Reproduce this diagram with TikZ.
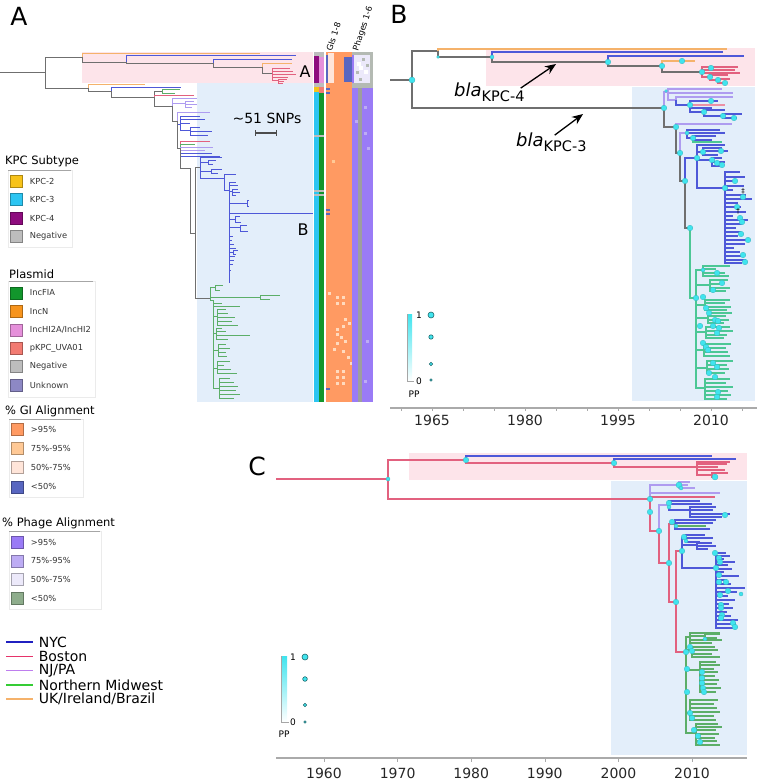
\documentclass[tikz,border=0pt]{standalone}
\usepackage{fontspec}
\setmainfont{DejaVu Sans}
\usetikzlibrary{arrows.meta,positioning}

\definecolor{kpcTwo}{HTML}{F7C31A}
\definecolor{kpcThree}{HTML}{2CC5F2}
\definecolor{kpcFour}{HTML}{8E0C7E}
\definecolor{negGrey}{HTML}{BDBDBD}
\definecolor{incFIA}{HTML}{12962C}
\definecolor{incN}{HTML}{F7941D}
\definecolor{incHI}{HTML}{E590DA}
\definecolor{uvaRed}{HTML}{F27B72}
\definecolor{unkPurple}{HTML}{8D88C4}
\definecolor{giHigh}{HTML}{FF9A62}
\definecolor{giMid}{HTML}{FFC996}
\definecolor{giLow}{HTML}{FFE5D9}
\definecolor{giNone}{HTML}{5866C0}
\definecolor{phHigh}{HTML}{9A7BF6}
\definecolor{phMid}{HTML}{BDACF4}
\definecolor{phLow}{HTML}{ECE9FA}
\definecolor{phNone}{HTML}{8EAD8C}
\definecolor{locNYC}{HTML}{2020C0}
\definecolor{locBos}{HTML}{E6336A}
\definecolor{locNJ}{HTML}{BE7EEE}
\definecolor{locMid}{HTML}{35CC35}
\definecolor{locUK}{HTML}{F5B26B}
\definecolor{brGrey}{HTML}{6F6F6F}
\definecolor{brBlue}{HTML}{4E58D8}
\definecolor{brViolet}{HTML}{AE9CF0}
\definecolor{brGreen}{HTML}{5CAE68}
\definecolor{brTeal}{HTML}{4CC795}
\definecolor{brRed}{HTML}{E2617F}
\definecolor{shadePink}{HTML}{FDE4EA}
\definecolor{shadeBlue}{HTML}{E3EEFA}
\definecolor{ppCyan}{HTML}{40E4EE}
\definecolor{axisGrey}{HTML}{AAAAAA}

\tikzset{
  br/.style={line width=0.8pt},
  brb/.style={line width=1.1pt},
  legsq/.style={draw=#1!70!black, fill=#1, line width=0.4pt, minimum size=12pt, inner sep=0pt},
  legtxt/.style={inner sep=0pt, anchor=west, font=\fontsize{8.3}{10}\selectfont, text=black!80},
  leghead/.style={inner sep=0pt, anchor=west, font=\fontsize{11.5}{13}\selectfont},
  loctxt/.style={inner sep=0pt, anchor=west, text=black, font=\fontsize{14}{16}\selectfont},
  legrule/.style={draw=black!35, line width=0.8pt},
  legframe/.style={draw=black!8, line width=0.5pt},
  panel/.style={inner sep=0pt, font=\fontsize{25}{28}\selectfont},
  cladetxt/.style={inner sep=0pt, font=\fontsize{16}{18}\selectfont},
  colhead/.style={inner sep=0pt, anchor=west, rotate=72, font=\fontsize{8.3}{9}\selectfont},
  pptxt/.style={inner sep=0pt, font=\fontsize{9}{10}\selectfont},
  ppkey/.style={fill=ppCyan, draw=black!55!ppCyan, line width=0.6pt},
  axis/.style={draw=axisGrey, line width=1.2pt},
  yearlab/.style={inner sep=0pt, font=\fontsize{14}{16}\selectfont, text=black!85},
  arr/.style={-{Stealth[length=11pt,width=9pt]}, line width=1.3pt},
}
\newcommand{\fan}[4]{\foreach \yy/\xe in {#4} \draw[#1] (#2,#3) |- (\xe,\yy);}
\newcommand{\ppd}[3][2.8]{\fill[ppCyan, draw=ppCyan!80!black, line width=0.3pt] (#2,#3) circle (#1);}
\newcommand{\blafont}{\fontsize{18}{20}\selectfont\itshape}
\newcommand{\kpcsub}[1]{\raisebox{-5pt}{\fontsize{14.5}{16}\selectfont\upshape #1}}

\begin{document}
\begin{tikzpicture}[x=1pt,y=-1pt]
\useasboundingbox (0,0) rectangle (760,783);

%% ---------- panel A: tree
\fill[shadePink] (82,52) rectangle (313,83);
\fill[shadeBlue] (197,83) rectangle (313,402);
\draw[br,brGrey] (0,72) -- (45,72);
\draw[br,brGrey] (45,72) |- (82,57);
\draw[br,brGrey] (45,72) |- (88,88);
% KPC-4 clade
\draw[br,locUK] (82,57) |- (260,53);
\draw[br,brGrey] (82,57) |- (126,62);
\draw[br,brBlue] (126,62) |- (296,55);
\draw[br,brGrey] (126,62) |- (213,63);
\draw[br,brBlue] (213,63) |- (292,59);
\draw[br,brGrey] (213,63) |- (262,67);
\draw[br,locUK] (262,67) |- (292,63);
\draw[br,brGrey] (262,67) |- (272,73);
\fan{br,brRed}{272}{73}{68/290,71/293,74/296,77/288,80/278}
\fan{br,brRed}{278}{80}{79/287,81/284,83/283}
% KPC-3 ladder
\draw[br,locUK] (88,88) |- (145,84);
\draw[br,brGrey] (88,88) |- (111,91);
\draw[br,brBlue] (111,91) |- (181,87);
\draw[br,brGrey] (111,91) |- (154,97);
\draw[br,brGrey] (154,97) |- (162,91);
\fan{br,brGreen}{162}{91}{89/180,93/175}
\draw[br,brRed] (154,97) |- (194,95);
\draw[br,brGrey] (154,97) |- (172,106);
\draw[br,brViolet] (172,106) |- (197,98);
\draw[br,brViolet] (172,106) |- (185,103);
\fan{br,brViolet}{185}{103}{101/194,104/197,107/192}
\draw[br,brGrey] (172,106) |- (177,121);
\draw[br,brViolet] (177,121) |- (210,112);
\draw[br,brBlue] (177,121) |- (180,124);
\fan{br,brBlue}{180}{124}{116/200,119/205,123/190,130/190}
\fan{br,brBlue}{190}{130}{127/200,131/212,135/208}
\draw[br,brGrey] (177,121) |- (180,148);
\draw[br,brRed] (180,148) |- (210,141);
\draw[br,brGreen] (180,148) |- (195,144);
\fan{br,brViolet}{180}{148}{147/213,150/205}
\fan{br,brBlue}{180}{148}{153/212,156/220}
\draw[br,brGrey] (180,148) |- (190,168) |- (195,233);
\draw[br,brGrey] (195,233) |- (200,167);
\draw[br,brGrey] (195,233) |- (210,298);
% NYC clade
\fan{br,brBlue}{200}{167}{157/222,162/208,171/211,178/224}
\fan{br,brBlue}{208}{162}{160/216,164/213}
\fan{br,brBlue}{211}{171}{169/222,173/218}
\fan{br,brBlue}{224}{178}{174/236,190/229}
\fan{br,brBlue}{229}{190}{182/236,185/238,191/232,203/247,213/313,219/235,227/240,236/233,240/232,244/234,248/236,252/233,256/235,260/234,264/233,270/231,283/229}
\fan{br,brBlue}{232}{191}{189/238,192/240,195/236}
\fan{br,brBlue}{247}{203}{200/249,206/249}
\fan{br,brBlue}{235}{219}{216/240,222/241}
\fan{br,brBlue}{240}{227}{225/247,231/248}
\fan{br,brBlue}{233}{252}{250/238,254/236}
% Northern Midwest clade
\fan{br,brGreen}{210}{298}{287/215,297/260,300/213}
\fan{br,brGreen}{215}{287}{285/223,290/220}
\fan{br,brGreen}{260}{297}{295/280,299/270}
\fan{br,brGreen}{213}{300}{303/222,306/240,316/217,333/216,350/218,368/217,388/219}
\fan{br,brGreen}{217}{316}{309/226,313/228,317/235,321/232,325/238}
\fan{br,brGreen}{216}{333}{328/222,331/226,335/250,339/228}
\fan{br,brGreen}{218}{350}{344/226,348/230,352/226,356/227}
\fan{br,brGreen}{217}{368}{361/230,365/224,369/231,373/237}
\fan{br,brGreen}{219}{388}{378/230,382/234,386/238,390/236,394/240,398/234}

\node[cladetxt] (cladeA) at (305,72) {A};
\node[cladetxt] (cladeB) at (303,230) {B};
\node[inner sep=0pt, font=\fontsize{14}{16}\selectfont] (snp) at (267,118) {\textasciitilde 51 SNPs};
\coordinate (snpL) at (255,133);
\coordinate (snpR) at (277,133);
\draw[{Bar[width=6pt]}-{Bar[width=6pt]}, line width=1.2pt, black!70] (snpL) -- (snpR);

%% ---------- panel A: annotation columns
\fill[negGrey] (314,52) rectangle (324,402);
\fill[kpcFour] (314,56) rectangle (319,83);
\fill[kpcTwo] (314,87) rectangle (319,92);
\fill[kpcThree] (314,92) rectangle (319,402);
\fill[incHI] (319,57) rectangle (324,83);
\fill[uvaRed] (319,87) rectangle (324,93);
\fill[incFIA] (319,93) rectangle (324,402);
\foreach \yy in {135,190,194} \fill[negGrey] (314,\yy) rectangle (324,\yy+2);
% GIs
\fill[giHigh] (326,52) rectangle (352,402);
\fill[giNone] (326,55) rectangle (328,83);
\fill[giLow] (328,53) rectangle (334,83);
\fill[giNone] (344,57) rectangle (352,82);
\foreach \px/\py in {326/88,326/92,326/209,326/213,326/388} \fill[giNone] (\px,\py) rectangle ++(4,2);
\fill[giMid] (332,160) rectangle ++(3,3);
\foreach \px/\py in {328/292,336/296,342/296,336/302,342/302,344/318,348/322,336/328,342/325,336/333,340/336,336/342,344/340,333/348,342/350,347/356,336/370,342/370,336/376,342/376,336/382,342/382,350/362}
  \fill[giLow!60!giMid] (\px,\py) rectangle ++(3,3);
% phages
\fill[phHigh] (352,52) rectangle (373,402);
\fill[phLow] (354,55) rectangle (370,83);
\fill[negGrey!80!phNone] (352,52) rectangle (373,55);
\fill[negGrey!80!phNone] (370,55) rectangle (373,83);
\fill[negGrey!80!phNone] (352,83) rectangle (373,88);
\foreach \px/\py in {362/58,356/71,366/64,359/78} \fill[negGrey!80!phNone] (\px,\py) rectangle ++(3,3);
\foreach \px/\py in {357/62,364/70,359/66} \fill[white] (\px,\py) rectangle ++(4,4);
\fill[black!38] (358,88) rectangle (362,402);
\foreach \px/\py in {364/106,364/132,367/147,355/120,364/380,366/340} \fill[phMid] (\px,\py) rectangle ++(3,3);
\node[colhead] (giHead) at (329,51) {GIs 1-8};
\node[colhead] (phHead) at (356,51) {Phages 1-6};

%% ---------- panel A: legends
\node[panel] (labA) at (19,16) {A};
\node[leghead] (kpcHead) at (5,161) {KPC Subtype};
\draw[legframe] (8,170) rectangle (72,247);
\draw[legrule] (8,170) -- (71,170);
\foreach \clr/\lab [count=\i] in {kpcTwo/KPC-2,kpcThree/KPC-3,kpcFour/KPC-4,negGrey/Negative} {
  \node[legsq=\clr] (kpc\i) at (16.5,{162.5+18.5*\i}) {};
  \node[legtxt, right=7pt of kpc\i] (kpcLab\i) {\lab};
}
\node[leghead] (plHead) at (9,274) {Plasmid};
\draw[legframe] (8,281) rectangle (95,397);
\draw[legrule] (9,281) -- (93,281);
\foreach \clr/\lab [count=\i] in {incFIA/IncFIA,incN/IncN,incHI/{IncHI2A/IncHI2},uvaRed/pKPC\_UVA01,negGrey/Negative,unkPurple/Unknown} {
  \node[legsq=\clr] (pl\i) at (16.5,{274.6+18.4*\i}) {};
  \node[legtxt, right=7pt of pl\i] (plLab\i) {\lab};
}
\node[leghead] (giLegHead) at (5,411) {\% GI Alignment};
\draw[legframe] (9,419) rectangle (83,497);
\draw[legrule] (9,419) -- (81,419);
\foreach \clr/\lab [count=\i] in {giHigh/>95\%,giMid/75\%-95\%,giLow/50\%-75\%,giNone/<50\%} {
  \node[legsq=\clr] (gi\i) at (17.5,{409.7+19.3*\i}) {};
  \node[legtxt, right=7pt of gi\i] (giLab\i) {\lab};
}
\node[leghead] (phLegHead) at (2,523) {\% Phage Alignment};
\draw[legframe] (9,531) rectangle (101,609);
\draw[legrule] (9,531) -- (100,531);
\foreach \clr/\lab [count=\i] in {phHigh/>95\%,phMid/75\%-95\%,phLow/50\%-75\%,phNone/<50\%} {
  \node[legsq=\clr] (ph\i) at (17.5,{523.3+18.7*\i}) {};
  \node[legtxt, right=7pt of ph\i] (phLab\i) {\lab};
}
\foreach \clr/\lab [count=\i] in {locNYC/NYC,locBos/Boston,locNJ/{NJ/PA},locMid/Northern Midwest,locUK/{UK/Ireland/Brazil}} {
  \coordinate (loc\i) at (6,{627.7+14.3*\i});
  \draw[line width=1.6pt, \clr] (loc\i) -- ++(27,0) node[loctxt, right=5pt] (locLab\i) {\lab};
}

%% ---------- panel B
\node[panel] (labB) at (399,14) {B};
\fill[shadePink] (486,48) rectangle (755,86);
\fill[shadeBlue] (632,87) rectangle (755,401);
\draw[brb,brGrey] (390,80) -- (412,80);
\draw[brb,brGrey] (412,80) |- (438,51);
\draw[brb,brGrey] (412,80) |- (664,108);
\draw[brb,locUK] (438,51) |- (727,49);
\draw[brb,brGrey] (438,51) |- (492,57);
\draw[brb,brBlue] (492,57) |- (723,52);
\draw[brb,brGrey] (492,57) |- (608,62);
\draw[brb,brBlue] (608,62) |- (744,56);
\draw[brb,brGrey] (608,62) |- (662,66);
\draw[brb,locUK] (662,66) |- (695,61);
\draw[brb,brGrey] (662,66) |- (702,72);
\fan{brb,brRed}{702}{72}{67/738,70/735,73/740,77/710}
\fan{brb,brRed}{710}{77}{75/728,80/718}
\fan{brb,brRed}{718}{80}{79/730,83/725}
% KPC-3 part
\draw[brb,brViolet] (664,108) |- (668,92);
\fan{brb,brViolet}{668}{92}{89/722,93/733,100/676}
\draw[brb,brViolet] (676,100) |- (733,97);
\draw[brb,brBlue] (676,100) |- (690,105);
\fan{brb,brBlue}{690}{105}{101/718,108/712,112/704}
\draw[brb,brRed!70] (690,105) -- (725,105);
\fan{brb,brBlue}{704}{112}{110/725,116/723}
\fan{brb,brBlue}{723}{116}{114/742,118/737}
\draw[brb,brGrey] (664,108) |- (676,127);
\draw[brb,brViolet] (676,127) |- (732,124);
\draw[brb,brGrey] (676,127) |- (680,153);
\draw[brb,brViolet] (680,153) |- (687,133);
\fan{brb,brBlue}{687}{133}{130/720,133/725,138/693}
\fan{brb,brBlue}{693}{138}{136/716,140/712}
\draw[brb,brTeal] (693,138) |- (722,142);
\draw[brb,brGrey] (680,153) |- (685,181);
\draw[brb,brBlue] (685,181) |- (697,158);
\draw[brb,brGrey] (685,181) |- (690,228);
\fan{brb,brBlue}{697}{158}{145/725,152/703,160/712,188/725}
\fan{brb,brBlue}{703}{152}{148/722,151/728,155/718}
\fan{brb,brBlue}{712}{160}{158/722,162/725,166/720}
\fan{brb,brBlue}{725}{188}{172/740,177/745,181/737,186/744,190/733,195/746,199/752,203/738,207/741,212/746,216/733,220/748,224/742,228/736,232/741,236/738,240/749,244/745,248/734,252/740,256/744,260/746,263/742}
\draw[brb,brTeal] (690,228) |- (696,298);
\fan{brb,brTeal}{696}{298}{270/703,285/710,305/705,318/708,332/706,350/704,368/707,388/705}
\fan{brb,brTeal}{703}{270}{266/730,269/716,273/725,276/729}
\fan{brb,brTeal}{710}{285}{280/728,284/722,288/730,291/726}
\fan{brb,brTeal}{705}{305}{300/730,303/725,307/731,310/727}
\fan{brb,brTeal}{708}{318}{313/732,316/726,320/729,323/724}
\fan{brb,brTeal}{706}{332}{327/730,331/733,335/727,338/724}
\fan{brb,brTeal}{704}{350}{344/731,348/726,352/728,356/730}
\fan{brb,brTeal}{707}{368}{361/733,365/727,369/729,373/725}
\fan{brb,brTeal}{705}{388}{379/730,383/726,387/733,391/728,395/731,399/727}
% posterior dots
\ppd[3]{412}{80} \ppd[1.5]{438}{57} \ppd[2]{492}{57} \ppd{608}{62} \ppd{662}{66}
\ppd{682}{61} \ppd{702}{72} \ppd{711}{68} \ppd{710}{77} \ppd{718}{80} \ppd{725}{83}
\ppd{664}{108} \ppd[1.5]{666}{91} \ppd{690}{105} \ppd{711}{101} \ppd{704}{112}
\ppd{723}{116} \ppd{734}{118} \ppd{676}{127} \ppd{680}{153} \ppd[2]{687}{133}
\ppd{693}{138} \ppd{685}{181} \ppd{697}{158} \ppd{703}{152} \ppd{721}{151}
\ppd{712}{160} \ppd{717}{163} \ppd{722}{165} \ppd{725}{188} \ppd{735}{181}
\ppd{743}{197} \ppd{737}{207} \ppd{740}{218} \ppd{742}{222} \ppd{741}{234}
\ppd{748}{240} \ppd{743}{255} \ppd{745}{262} \ppd{690}{228} \ppd{696}{298}
\ppd[2]{703}{270} \ppd{717}{273} \ppd{722}{283} \ppd{713}{290} \ppd{703}{297}
\ppd{706}{308} \ppd{709}{313} \ppd{715}{320} \ppd{718}{321} \ppd{713}{326}
\ppd{719}{328} \ppd{717}{333} \ppd{700}{326} \ppd{703}{343} \ppd{706}{347}
\ppd{708}{350} \ppd{713}{363} \ppd{717}{367} \ppd{709}{373} \ppd{715}{377}
\ppd{718}{392} \ppd{717}{397}
\node[inner sep=0pt, font=\fontsize{7}{8}\selectfont] (ddagB) at (743,191) {‡};
\node[inner sep=0pt, font=\fontsize{7}{8}\selectfont] (dagB) at (738,211) {†};
% bla labels
\node[anchor=base west, inner sep=1pt] (blaFour) at (453,97) {\blafont bla\kpcsub{KPC-4}};
\node[anchor=base west, inner sep=1pt] (blaThree) at (515,147) {\blafont bla\kpcsub{KPC-3}};
\coordinate (tipFour) at (556,64);
\coordinate (tipThree) at (583,114);
\draw[arr] ([xshift=-5pt,yshift=-6pt]blaFour.north east) -- (tipFour);
\draw[arr] ([xshift=-33pt,yshift=-3pt]blaThree.north east) -- (tipThree);
% PP key
\shade[top color=ppCyan, bottom color=white] (407,314) rectangle (412,381);
\draw[black!35, line width=0.6pt] (407,314) -- (407,381) -- (414,381);
\node[pptxt] (ppOneB) at (419,315) {1};
\node[pptxt] (ppZeroB) at (419,381) {0};
\node[pptxt] (ppLabB) at (414,394) {PP};
\fill[ppkey] (431,315) circle (3); \fill[ppkey] (431,337) circle (2.2);
\fill[ppkey] (431,364) circle (1.7); \fill[ppkey] (431,380) circle (1.2);
% axis
\draw[axis] (390,408) -- (757,408);
\foreach \yr in {1960,1965,...,2015} \draw[axis, line width=0.6pt] ({432+(\yr-1965)*6.2},408) -- ++(0,3);
\foreach \yr in {1965,1980,1995,2010} \node[yearlab] (yrB\yr) at ({432+(\yr-1965)*6.2},420) {\yr};

%% ---------- panel C
\node[panel] (labC) at (257,466) {C};
\fill[shadePink] (409,453) rectangle (747,480);
\fill[shadeBlue] (611,481) rectangle (747,755);
\draw[brb,brRed] (276,479) -- (388,479);
\draw[brb,brRed] (388,479) |- (466,460);
\draw[brb,brRed] (388,479) |- (650,499);
\draw[brb,brBlue] (466,460) |- (712,456);
\draw[brb,brRed] (466,460) |- (614,463);
\draw[brb,brBlue] (614,463) |- (736,459);
\draw[brb,brRed] (614,463) |- (697,467);
\fan{brb,brRed}{697}{467}{462/730,464/727,467/718,470/725,475/712}
\fan{brb,brRed}{712}{475}{473/728,477/716}
\draw[brb,brViolet] (650,499) |- (679,485);
\fan{brb,brViolet}{679}{485}{482/690,485/688,488/695}
\draw[brb,brViolet] (650,499) |- (720,493);
\draw[brb,brRed] (650,499) |- (715,497);
\draw[brb,brRed] (650,499) |- (659,531);
\draw[brb,brViolet] (659,531) |- (669,505);
\fan{brb,brBlue}{669}{505}{501/700,504/712,510/690}
\fan{brb,brBlue}{690}{510}{507/716,510/713,514/730,517/722}
\draw[brb,brRed] (659,531) |- (669,563);
\draw[brb,brRed] (669,563) |- (675,524);
\fan{brb,brBlue}{675}{524}{520/716,523/713,529/710}
\draw[brb,brGreen] (675,524) |- (706,526);
\draw[brb,brRed] (669,563) |- (676,602);
\draw[brb,brRed] (676,602) |- (682,551);
\draw[brb,brRed] (676,602) |- (686,652);
\fan{brb,brBlue}{682}{551}{538/686,545/697,568/716}
\fan{brb,brBlue}{686}{538}{535/705,538/713,542/700}
\fan{brb,brBlue}{697}{545}{543/712,546/716,549/708}
\fan{brb,brBlue}{716}{568}{553/726,556/730,559/724,562/735,565/728,569/732,572/724,576/739,580/727,584/731,588/745,592/737,596/728,600/735,604/729,608/733,612/727,616/731,620/738,624/736,628/734}
\fan{brb,brGreen}{686}{652}{637/690,650/692,670/700,713/690,733/696}
\fan{brb,brGreen}{690}{637}{633/720,636/705,640/722,643/712}
\fan{brb,brGreen}{705}{636}{634/720,638/717}
\fan{brb,brGreen}{692}{650}{647/715,650/718,654/712,657/720}
\fan{brb,brGreen}{700}{670}{662/716,665/720,669/714,672/718,676/715,680/719,684/717,688/721,692/716}
\fan{brb,brGreen}{690}{713}{700/718,704/714,708/717,712/720,716/714,720/716}
\fan{brb,brGreen}{696}{733}{724/718,727/722,730/716,734/719,738/715,741/717,745/720}
% posterior dots
\ppd[2]{388}{479} \ppd{466}{460} \ppd{614}{463} \ppd[3]{715}{477}
\ppd{650}{499} \ppd{650}{512} \ppd[3]{679}{485} \ppd[2]{681}{488} \ppd{659}{531}
\ppd{669}{503} \ppd[2]{669}{507} \ppd{725}{515} \ppd{669}{563} \ppd{672}{522}
\ppd[2]{676}{526} \ppd{676}{602} \ppd{682}{551} \ppd{684}{537} \ppd[2]{686}{541}
\ppd{715}{553} \ppd{719}{558} \ppd{720}{562} \ppd{716}{568} \ppd{719}{575}
\ppd{719}{582} \ppd{726}{582} \ppd{728}{591} \ppd[2]{741}{594} \ppd{720}{595}
\ppd{721}{605} \ppd{721}{608} \ppd{722}{615} \ppd{721}{618} \ppd{733}{623}
\ppd{735}{627} \ppd{686}{652} \ppd{690}{647} \ppd{692}{651} \ppd{687}{669}
\ppd{687}{692} \ppd{690}{713} \ppd{692}{718} \ppd{694}{730} \ppd{698}{736}
\ppd{700}{742} \ppd{702}{672} \ppd{702}{678} \ppd{702}{683} \ppd{703}{688}
\ppd{704}{692} \ppd[2]{705}{639}
% PP key
\shade[top color=ppCyan, bottom color=white] (281,656) rectangle (287,722);
\draw[black!35, line width=0.6pt] (281,656) -- (281,722) -- (289,722);
\node[pptxt] (ppOneC) at (293,657) {1};
\node[pptxt] (ppZeroC) at (293,722) {0};
\node[pptxt] (ppLabC) at (284,734) {PP};
\fill[ppkey] (305,657) circle (3); \fill[ppkey] (305,679) circle (2.3);
\fill[ppkey] (305,705) circle (1.7); \fill[ppkey] (305,722) circle (1.2);
% axis
\draw[axis] (276,758) -- (747,758);
\foreach \yr in {1960,1970,...,2010} {
  \draw[axis, line width=0.6pt] ({324+(\yr-1960)*7.36},758) -- ++(0,4);
  \node[yearlab] (yrC\yr) at ({324+(\yr-1960)*7.36},773) {\yr};
}
\end{tikzpicture}
\end{document}
